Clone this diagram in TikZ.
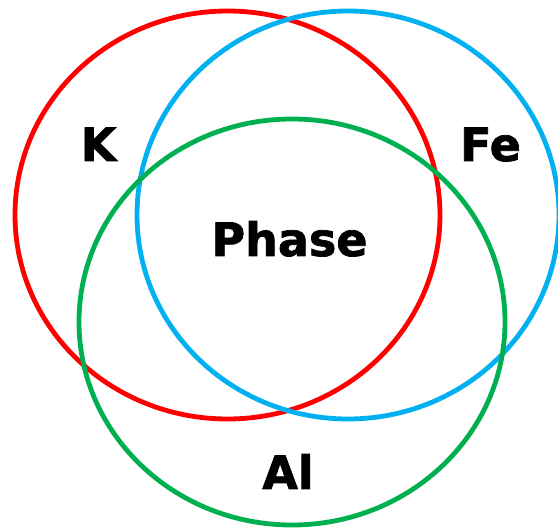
\documentclass[tikz,border=0pt]{standalone}
\usepackage{fontspec}
\newfontfamily\labelfont[FakeBold=1.6]{DejaVu Sans Bold}
\definecolor{setred}{HTML}{FF0000}
\definecolor{setblue}{HTML}{00B0F0}
\definecolor{setgreen}{HTML}{00B050}
\tikzset{
  ring/.style={draw=#1,line width=4.8pt},
  setlabel/.style={anchor=base,inner sep=0pt,font=\labelfont\fontsize{46}{46}\selectfont},
}
\begin{document}
\begin{tikzpicture}[x=1pt,y=-1pt]
  \useasboundingbox (0,0) rectangle (558,529);
  % the three sets
  \draw[ring=setred] (227.5,215) ellipse [x radius=212.5, y radius=204];
  \draw[ring=setblue] (348,215) ellipse [x radius=211, y radius=204];
  \draw[ring=setgreen] (292,322) ellipse [x radius=213, y radius=203];
  % labels
  \node[setlabel] (k) at (98.5,161) {K};
  \node[setlabel] (fe) at (490.5,161) {Fe};
  \node[setlabel] (phase) at (289.5,256) {Phase};
  \node[setlabel] (al) at (288,489) {Al};
\end{tikzpicture}
\end{document}
